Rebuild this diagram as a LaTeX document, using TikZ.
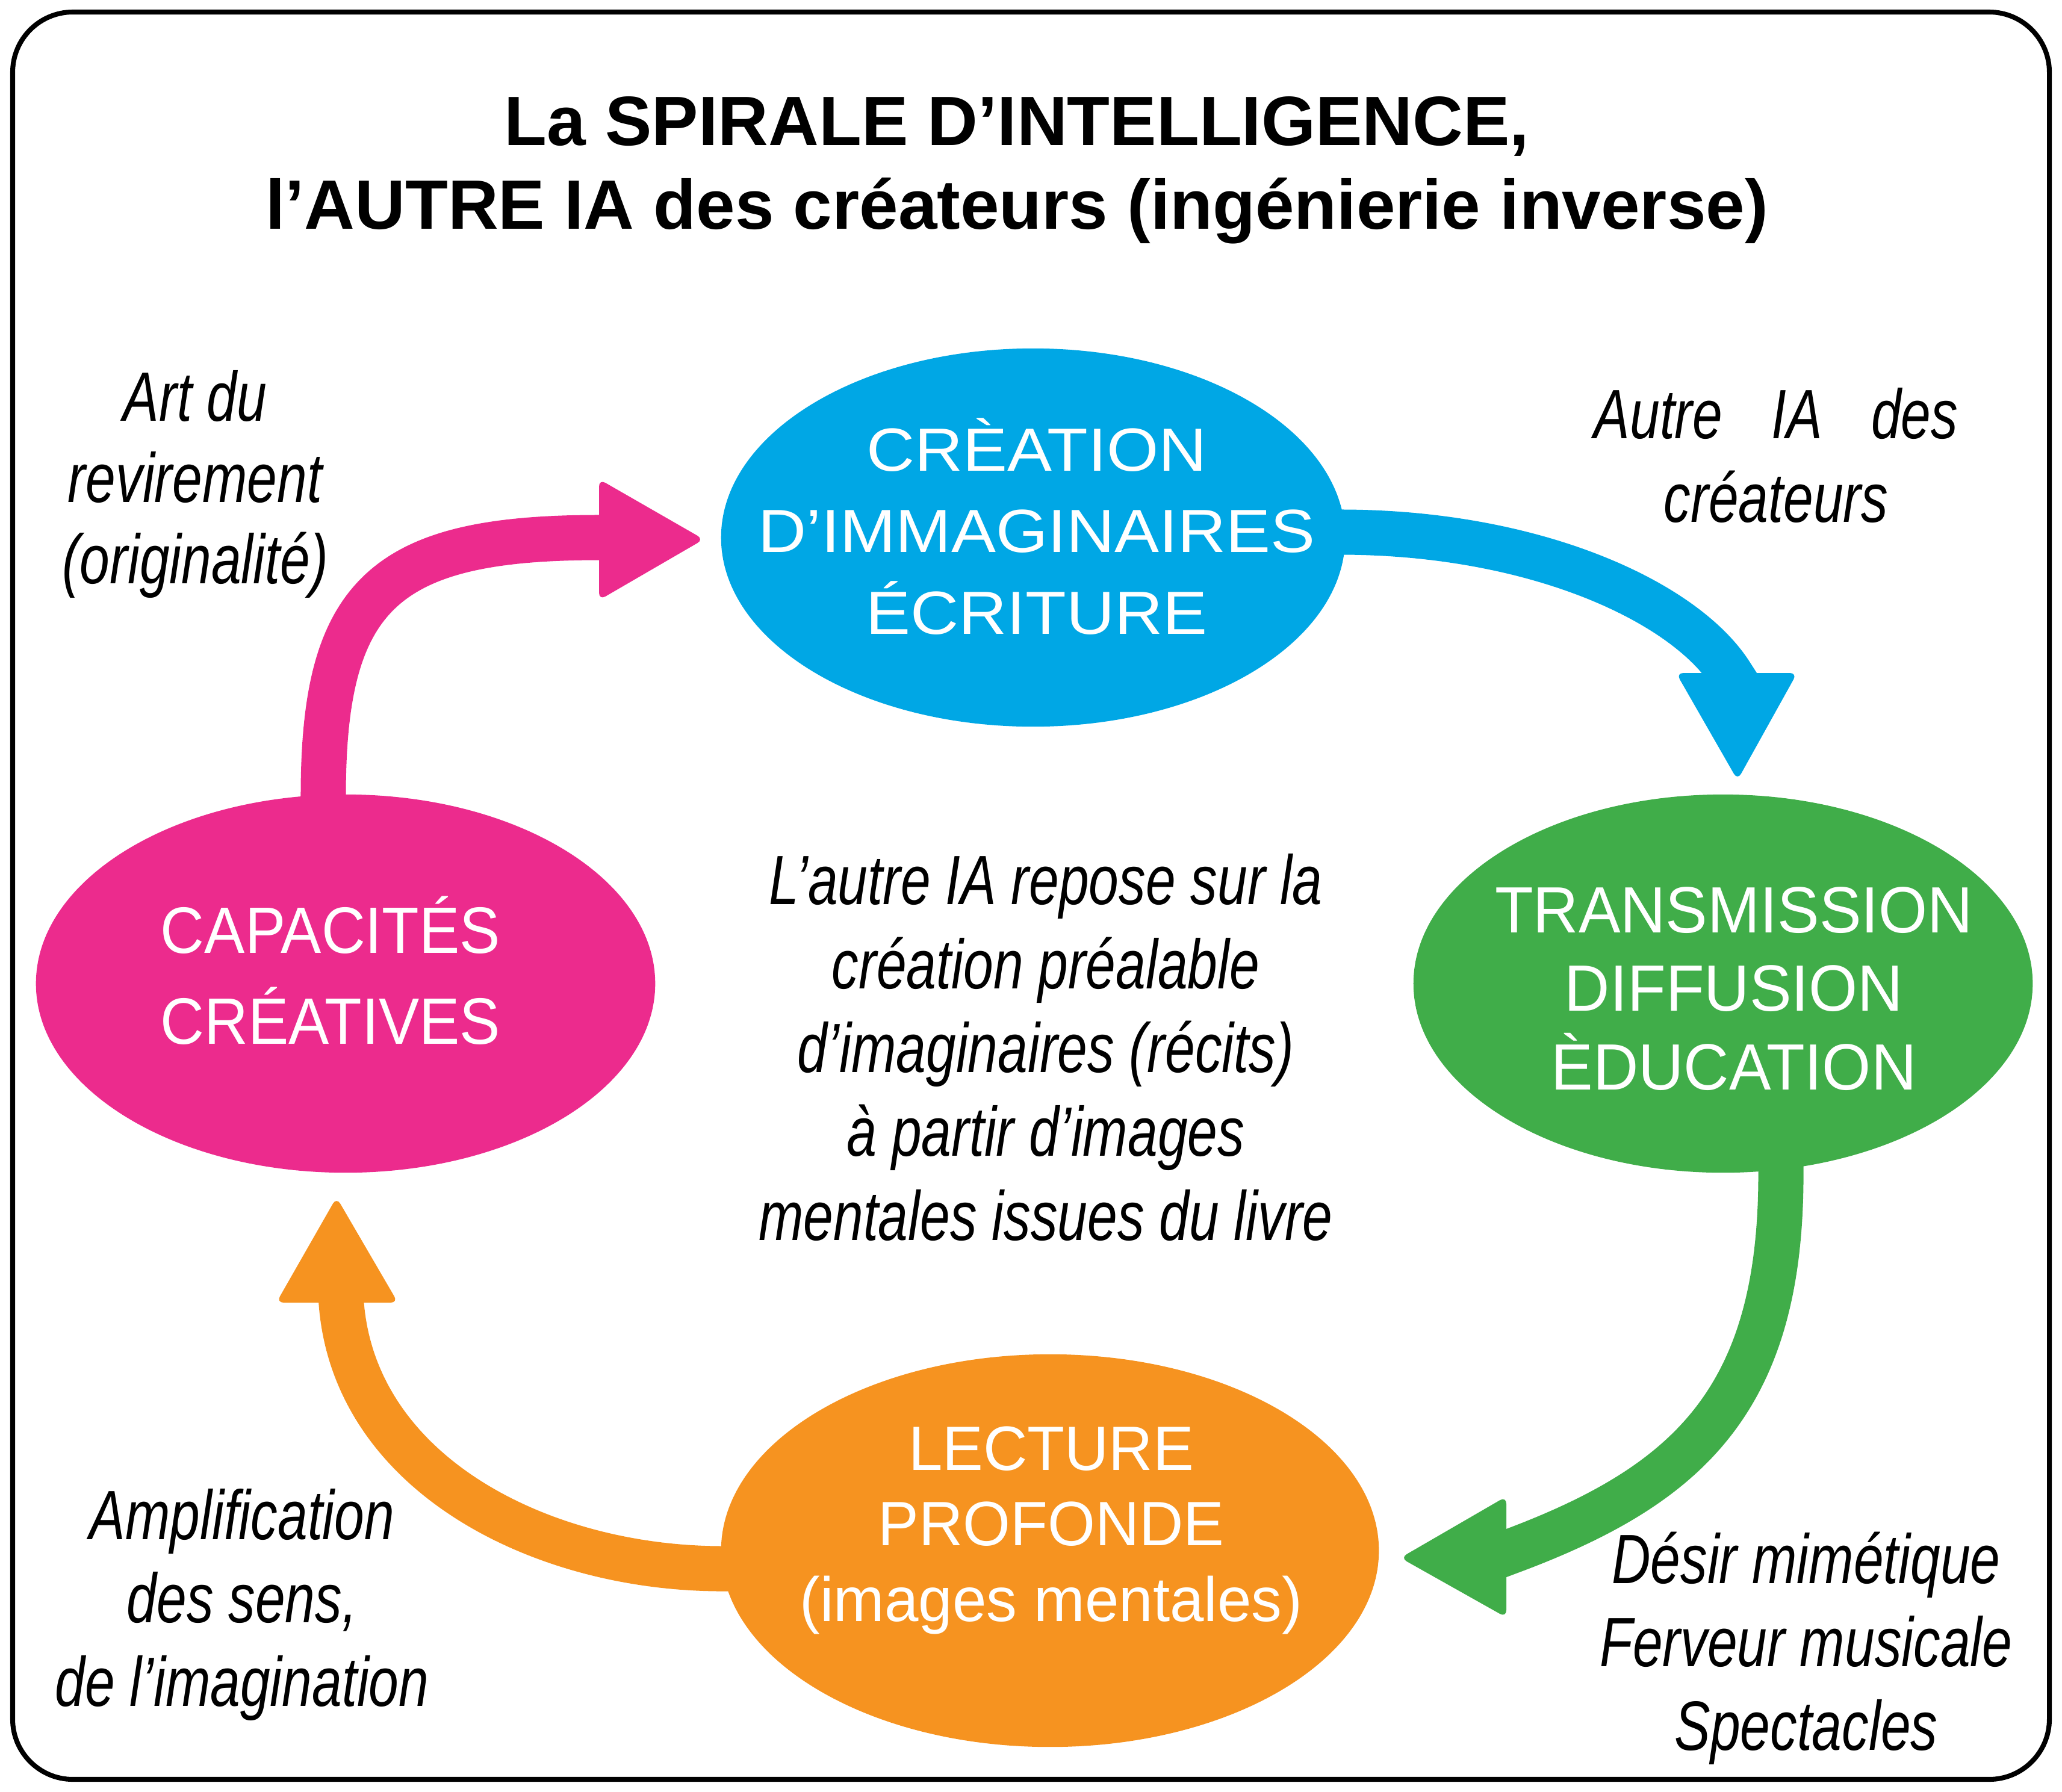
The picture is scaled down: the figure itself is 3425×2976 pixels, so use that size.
\documentclass[tikz,border=0pt]{standalone}
\usepackage{fontspec}
\usetikzlibrary{calc,shapes.geometric}
\setmainfont{Liberation Sans}
\newfontfamily\TitleF{Liberation Sans}
\newfontfamily\ItF[FakeStretch=0.77]{Liberation Sans}
\newfontfamily\BlueF[FakeStretch=1.095]{Liberation Sans}
\newfontfamily\GreenF[FakeStretch=0.96]{Liberation Sans}
\newfontfamily\PinkF[FakeStretch=0.925]{Liberation Sans}
\newfontfamily\OrangeF[FakeStretch=0.975]{Liberation Sans}
\definecolor{cBlue}{RGB}{0,167,229}
\definecolor{cGreen}{RGB}{64,173,73}
\definecolor{cPink}{RGB}{236,43,141}
\definecolor{cOrange}{RGB}{246,147,32}
\pgfdeclarelayer{bg}
\pgfsetlayers{bg,main}
\tikzset{
  ell/.style={ellipse, inner sep=0pt, outer sep=0pt, draw=none},
  etext/.style={text=white, align=center, anchor=base, inner sep=0pt},
  lbl/.style={align=center, anchor=base, inner sep=0pt, text=black},
  shaft/.style={line width=0.75cm, line join=round, line cap=butt},
  head/.style={rounded corners=0.12cm},
  frame/.style={line width=2.3pt, rounded corners=1cm},
}
\begin{document}
\begin{tikzpicture}[x=0.01cm, y=-0.01cm]
\useasboundingbox (0,0) rectangle (3425,2976);
\draw[frame] (21,20) rectangle (3404,2956);

% title (anchor base = baseline of last line)
\node[lbl, font=\TitleF\bfseries\fontsize{33}{39.6}\selectfont] (title) at (1689,381)
  {La SPIRALE D’INTELLIGENCE,\\l’AUTRE IA des créateurs (ingénierie inverse)};

% ellipses
\node[ell, fill=cBlue, minimum width=10.36cm, minimum height=6.28cm] (nCrea) at (1716,893) {};
\node[ell, fill=cGreen, minimum width=10.28cm, minimum height=6.28cm] (nTrans) at (2862,1634) {};
\node[ell, fill=cPink, minimum width=10.28cm, minimum height=6.28cm] (nCapa) at (574,1634) {};
\node[ell, fill=cOrange, minimum width=10.92cm, minimum height=6.52cm] (nLect) at (1744,2576) {};

% ellipse texts
\node[etext, font=\BlueF\fontsize{28.8}{38.4}\selectfont] (tCrea) at (1722,1053)
  {CRÈATION\\D’IMMAGINAIRES\\ÉCRITURE};
\node[etext, font=\GreenF\fontsize{30.9}{37}\selectfont] (tTrans) at (2880,1810)
  {TRANSMISSION\\DIFFUSION\\ÈDUCATION};
\node[etext, font=\PinkF\fontsize{31}{42.7}\selectfont] (tCapa) at (549,1734)
  {CAPACITÉS\\CRÉATIVES};
\node[etext, font=\OrangeF\fontsize{29.6}{35.6}\selectfont] (tLect) at (1746,2693)
  {LECTURE\\PROFONDE\\(images mentales)};

% arrow end coordinates
\coordinate (pBase) at (995,896);
\coordinate (pTip) at (1169,896);
\coordinate (bBase) at (2884,1118);
\coordinate (bTip) at (2886,1296);
\coordinate (gBase) at (2502,2586);
\coordinate (gTip) at (2326,2588);
\coordinate (oBase) at (560,2164);
\coordinate (oTip) at (559,1989);

\begin{pgfonlayer}{bg}
% pink arrow
\draw[shaft, cPink] ($(nCapa.center)+(-37,-254)$) -- (537,1322)
   .. controls (537,987) and (638,893) .. (995,893) -- (1015,893);
\fill[head, cPink] (pTip) -- ($(pBase)+(0,-100)$) -- ($(pBase)+(0,101)$) -- cycle;
% blue arrow
\draw[shaft, cBlue] ($(nCrea.center)+(470,-9)$) -- (2226,884)
   .. controls (2550,884) and (2800,1000) .. (2876,1122) -- (2892,1147);
\fill[head, cBlue] (bTip) -- ($(bBase)+(-100,0)$) -- ($(bBase)+(101,0)$) -- cycle;
% green arrow
\draw[shaft, cGreen] ($(nTrans.center)+(96,260)$) -- (2958,1945)
   .. controls (2960,2330) and (2800,2470) .. (2502,2580) -- (2478,2589);
\fill[head, cGreen] (gTip) -- ($(gBase)+(0,-100)$) -- ($(gBase)+(0,101)$) -- cycle;
% orange arrow
\draw[shaft, cOrange] ($(nLect.center)+(-500,30)$) -- (1200,2606)
   .. controls (900,2606) and (590,2450) .. (567,2166) -- (565,2140);
\fill[head, cOrange] (oTip) -- ($(oBase)+(-101,0)$) -- ($(oBase)+(101,0)$) -- cycle;
\end{pgfonlayer}

% italic labels
\node[lbl, font=\ItF\itshape\fontsize{33}{38.3}\selectfont] (lArt) at (324,969)
  {Art du\\revirement\\(originalité)};
\node[lbl, font=\ItF\itshape\fontsize{33}{39.5}\selectfont] (lAutre) at (2950,867)
  {\hbox to 171.9pt{Autre\hfill IA\hfill des}\\créateurs};
\node[lbl, font=\ItF\itshape\fontsize{33}{39.6}\selectfont] (lCentre) at (1737,2060)
  {L’autre IA repose sur la\\création préalable\\d’imaginaires (récits)\\à partir d’images\\mentales issues du livre};
\node[lbl, font=\ItF\itshape\fontsize{33}{39.3}\selectfont] (lDesir) at (3000,2907)
  {Désir mimétique\\Ferveur musicale\\Spectacles};
\node[lbl, font=\ItF\itshape\fontsize{33}{39.3}\selectfont] (lAmpl) at (402,2834)
  {Amplification\\des sens,\\de l’imagination};
\end{tikzpicture}
\end{document}
